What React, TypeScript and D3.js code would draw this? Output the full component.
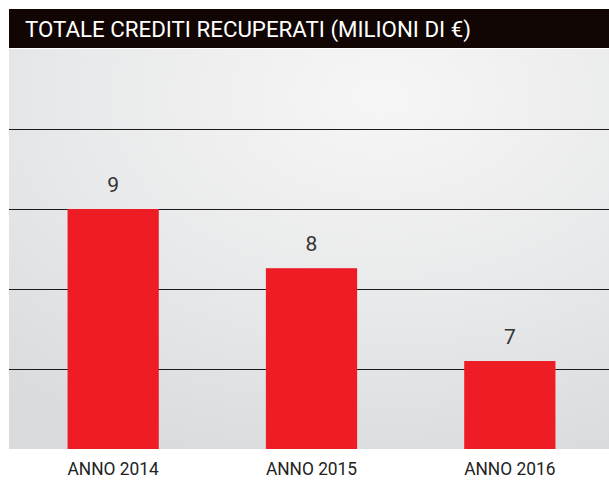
import * as d3 from "d3";
import React from "react";

const categories = ["ANNO 2014", "ANNO 2015", "ANNO 2016"];
const values = [9.0, 8.26, 7.1];
const gridTicks = [7, 8, 9, 10];
const title = "TOTALE CREDITI RECUPERATI (MILIONI DI €)";

const App = () => {
  const svgWidth = 609;
  const svgHeight = 481;
  const plot = { left: 9, right: 609, top: 49, bottom: 449 };

  const x = d3.scaleBand<string>()
    .domain(categories)
    .range([14, plot.right])
    .paddingInner(0.54)
    .paddingOuter(0.27);

  const y = d3.scaleLinear()
    .domain([6, 11])
    .range([plot.bottom, plot.top]);

  let grid = gridTicks.map((t) => (
    <line key={t} x1={plot.left} x2={plot.right} y1={Math.round(y(t)) + 0.5} y2={Math.round(y(t)) + 0.5}
      stroke="#1a1a1a" strokeWidth={1} />
  ));

  let bars = categories.map((c, i) => {
    const bx = x(c) as number;
    const by = y(values[i]);
    return (
      <g key={c}>
        <rect x={bx} y={by} width={x.bandwidth()} height={plot.bottom - by} fill="#ee1d25" />
        <text x={bx + x.bandwidth() / 2} y={by - 17} textAnchor="middle" fontSize={21}
          fill="#333">{Math.round(values[i])}</text>
        <text x={bx} y={475} fontSize={19} fill="#222" textLength={x.bandwidth()}
          lengthAdjust="spacingAndGlyphs">{c}</text>
      </g>
    );
  });

  return (
    <div style={{ position: "absolute", left: 0, top: 0 }}>
      <svg width={svgWidth} height={svgHeight} style={{ display: "block", fontFamily: "Roboto, sans-serif" }}>
        <defs>
          <radialGradient id="bg" cx="0.62" cy="0.12" r="0.95" fx="0.62" fy="0.12">
            <stop offset="0" stopColor="#f6f6f6" />
            <stop offset="0.55" stopColor="#e8e9ea" />
            <stop offset="1" stopColor="#dadbdd" />
          </radialGradient>
        </defs>
        <rect x={0} y={0} width={svgWidth} height={svgHeight} fill="#fff" />
        <rect x={plot.left} y={plot.top} width={plot.right - plot.left} height={plot.bottom - plot.top} fill="url(#bg)" />
        <rect x={9} y={9} width={600} height={39} fill="#120604" />
        <text x={25} y={37} fontSize={22} fill="#fff" textLength={446} lengthAdjust="spacingAndGlyphs">{title}</text>
        {grid}
        {bars}
      </svg>
    </div>
  );
};

export default App;
